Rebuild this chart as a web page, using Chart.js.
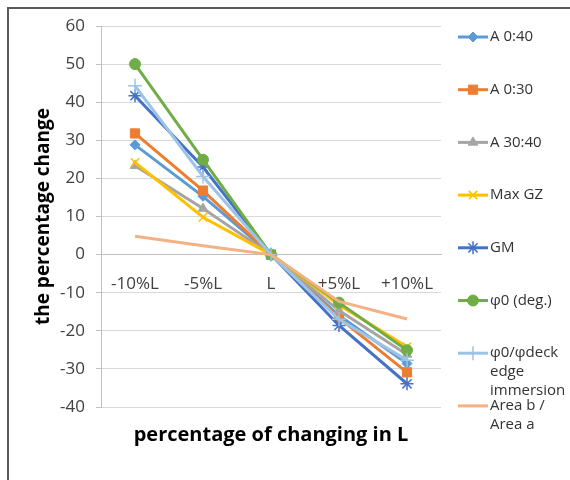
<!DOCTYPE html>
<html>
<head>
<meta charset="utf-8">
<script src="https://cdn.jsdelivr.net/npm/chart.js@4.4.1/dist/chart.umd.min.js"></script>
<style>
  html, body { margin: 0; padding: 0; background: #fff; }
</style>
</head>
<body>
<canvas id="lengthChart" width="570" height="480"></canvas>
<script>
// Percentage change of each stability criterion when the length L varies
const categories = ['-10%L', '-5%L', 'L', '+5%L', '+10%L'];
const seriesNames = ['A 0:40', 'A 0:30', 'A 30:40', 'Max GZ', 'GM', 'φ0 (deg.)', 'φ0/φdeck edge immersion', 'Area b / Area a'];

const a040 = [28.8, 15.3, 0, -16.0, -28.6];
const a030 = [31.8, 16.8, 0, -16.6, -30.9];
const a3040 = [23.3, 12.1, 0, -14.7, -26.2];
const maxGZ = [24.2, 9.8, 0, -13.2, -24.2];
const gm = [41.7, 23.0, 0, -18.6, -33.9];
const phi0 = [50.0, 24.9, 0, -12.6, -25.1];
const phiDeck = [44.3, 20.5, 0, -17.0, -27.7];
const areaRatio = [4.8, 2.3, 0, -12.3, -16.9];

const yTicks = { min: -40, max: 60, step: 10 };

const seriesData = [a040, a030, a3040, maxGZ, gm, phi0, phiDeck, areaRatio];
const colors = ['#5B9BD5', '#ED7D31', '#A5A5A5', '#FFC000', '#4472C4', '#70AD47', '#9DC3E6', '#F4B183'];
const markers = [
  { style: 'rectRot', r: 5 },
  { style: 'rect', r: 6.5 },
  { style: 'triangle', r: 5.5 },
  { style: 'crossRot', r: 6 },
  { style: 'star', r: 6.5 },
  { style: 'circle', r: 5.5 },
  { style: 'cross', r: 7 },
  { style: false, r: 0 }
];

Chart.defaults.font.family = "'Open Sans', 'Noto Sans', sans-serif";

const datasets = seriesData.map((vals, i) => ({
  label: seriesNames[i],
  data: vals,
  borderColor: colors[i],
  backgroundColor: colors[i],
  borderWidth: 3,
  pointStyle: markers[i].style,
  pointRadius: markers[i].r,
  pointBorderWidth: ['crossRot', 'star', 'cross'].includes(markers[i].style) ? 1.5 : 1,
  tension: 0,
  order: -i
}));

// outer frame (left and top edges only)
const framePlugin = {
  id: 'frame',
  beforeDraw(chart) {
    const c = chart.ctx;
    c.save();
    c.strokeStyle = '#595959';
    c.lineWidth = 2;
    c.beginPath();
    c.moveTo(8, 480);
    c.lineTo(8, 8);
    c.lineTo(570, 8);
    c.stroke();
    c.restore();
  }
};

// x axis title sits below the plot, not next to the axis line
const xTitlePlugin = {
  id: 'xTitle',
  afterDraw(chart) {
    const c = chart.ctx;
    const area = chart.chartArea;
    c.save();
    c.font = "bold 20px 'Open Sans', sans-serif";
    c.fillStyle = '#000';
    c.textAlign = 'center';
    c.textBaseline = 'middle';
    c.fillText('percentage of changing in L', (area.left + area.right) / 2, 435);
    c.restore();
  }
};

// legend on the right, long names wrap onto several lines
const sideLegend = {
  id: 'sideLegend',
  afterDraw(chart) {
    const c = chart.ctx;
    const x0 = 458, x1 = 488, tx = 490;
    const maxW = 80, lineH = 19;
    c.save();
    c.font = "15px 'Open Sans', sans-serif";
    c.textBaseline = 'middle';
    c.textAlign = 'left';
    chart.data.datasets.forEach((ds, i) => {
      const y = 37 + i * 52.7;
      c.strokeStyle = ds.borderColor;
      c.lineWidth = 3;
      c.beginPath();
      c.moveTo(x0, y);
      c.lineTo(x1, y);
      c.stroke();
      if (ds.pointStyle) {
        c.fillStyle = ds.backgroundColor;
        c.strokeStyle = ds.borderColor;
        c.lineWidth = ds.pointBorderWidth;
        Chart.helpers.drawPoint(c, { pointStyle: ds.pointStyle, radius: ds.pointRadius, rotation: 0, borderWidth: ds.pointBorderWidth }, (x0 + x1) / 2, y);
      }
      // wrap label by words
      const words = ds.label.split(' ');
      const lines = [];
      let cur = '';
      words.forEach(w => {
        const test = cur ? cur + ' ' + w : w;
        if (cur && c.measureText(test).width > maxW) {
          lines.push(cur);
          cur = w;
        } else {
          cur = test;
        }
      });
      lines.push(cur);
      c.fillStyle = '#333';
      lines.forEach((ln, k) => c.fillText(ln, tx, y + k * lineH));
    });
    c.restore();
  }
};

new Chart(document.getElementById('lengthChart'), {
  type: 'line',
  data: { labels: categories, datasets: datasets },
  options: {
    responsive: false,
    animation: false,
    layout: { padding: { left: 7, top: 26, right: 129, bottom: 73 } },
    plugins: {
      legend: { display: false },
      tooltip: { enabled: false }
    },
    scales: {
      x: {
        type: 'category',
        position: { y: 0 },
        offset: true,
        grid: { display: false, drawTicks: false },
        border: { display: true, color: '#bfbfbf', width: 1 },
        ticks: { color: '#404040', font: { size: 17 }, padding: 19, maxRotation: 0, autoSkip: false }
      },
      y: {
        min: yTicks.min,
        max: yTicks.max,
        afterFit(scale) { scale.width = 94; },
        grid: { color: '#d9d9d9', tickColor: '#bfbfbf', tickLength: 5, lineWidth: 1 },
        border: { display: true, color: '#bfbfbf', width: 1 },
        ticks: { stepSize: yTicks.step, color: '#404040', font: { size: 17 }, padding: 11 },
        title: {
          display: true,
          text: 'the percentage change',
          color: '#000',
          font: { size: 19, weight: 'bold' },
          padding: { top: 25, bottom: 0 }
        }
      }
    }
  },
  plugins: [framePlugin, xTitlePlugin, sideLegend]
});
</script>
</body>
</html>
